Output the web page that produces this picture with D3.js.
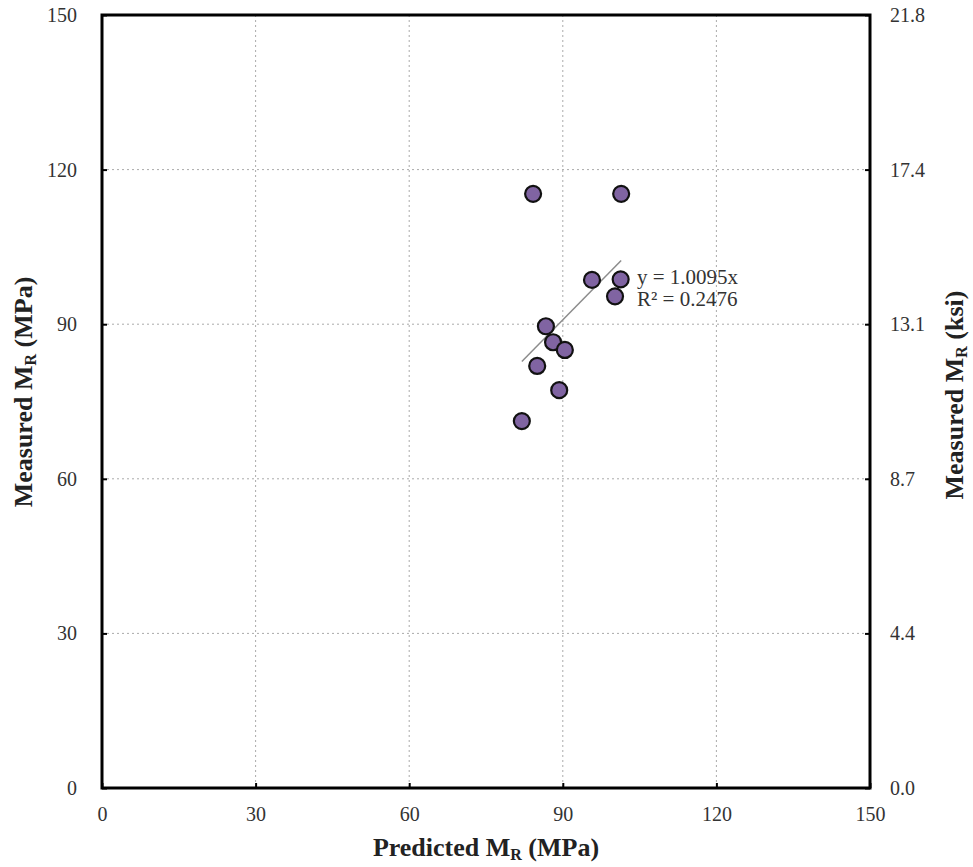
<!DOCTYPE html>
<html><head><meta charset="utf-8">
<script src="https://cdn.jsdelivr.net/npm/d3@7"></script>
<style>body{margin:0;background:#fff}</style>
</head><body>
<svg id="c" width="973" height="867"></svg>
<script>
const predicted = [84.2, 101.4, 95.7, 101.3, 100.2, 86.7, 88.1, 90.4, 85.0, 89.3, 82.0];
const measured  = [115.3, 115.3, 98.6, 98.7, 95.4, 89.6, 86.5, 85.0, 81.9, 77.2, 71.2];
const xTicks = [0, 30, 60, 90, 120, 150];
const yTicks = [0, 30, 60, 90, 120, 150];
const ksiLabels = ["0.0", "4.4", "8.7", "13.1", "17.4", "21.8"];
const slope = 1.0095;
const eqText = "y = 1.0095x";
const r2Text = "R² = 0.2476";

const svg = d3.select("#c");
const L = 102, R = 870, T = 15, B = 788;
const x = d3.scaleLinear().domain([0, 150]).range([L, R]);
const y = d3.scaleLinear().domain([0, 150]).range([B, T]);
const serif = "'Liberation Serif','Times New Roman',serif";

// gridlines
svg.append("g").selectAll("line").data(xTicks.slice(1, -1)).join("line")
  .attr("x1", d => x(d)).attr("x2", d => x(d)).attr("y1", T).attr("y2", B)
  .attr("stroke", "#aaa").attr("stroke-width", 1).attr("stroke-dasharray", "2,3");
svg.append("g").selectAll("line").data(yTicks.slice(1, -1)).join("line")
  .attr("y1", d => y(d)).attr("y2", d => y(d)).attr("x1", L).attr("x2", R)
  .attr("stroke", "#aaa").attr("stroke-width", 1).attr("stroke-dasharray", "2,3");

// axes (inner ticks)
const tickStyle = g => { g.select(".domain").remove(); g.selectAll("line").attr("stroke", "#000").attr("stroke-width", 2);
  g.selectAll("text").attr("font-family", serif).attr("font-size", 20).attr("fill", "#333"); };
svg.append("g").attr("transform", `translate(0,${B})`)
  .call(d3.axisBottom(x).tickValues(xTicks).tickSizeInner(-5).tickPadding(19).tickFormat(d3.format("d")))
  .call(tickStyle);
svg.append("g").attr("transform", `translate(${L},0)`)
  .call(d3.axisLeft(y).tickValues(yTicks).tickSizeInner(-5).tickPadding(25).tickFormat(d3.format("d")))
  .call(tickStyle);
svg.append("g").attr("transform", `translate(${R},0)`)
  .call(d3.axisRight(y).tickValues(yTicks).tickSizeInner(-5).tickPadding(20).tickFormat((d, i) => ksiLabels[i]))
  .call(tickStyle);

// frame
svg.append("rect").attr("x", L).attr("y", T).attr("width", R - L).attr("height", B - T)
  .attr("fill", "none").attr("stroke", "#000").attr("stroke-width", 3);

// trendline
const xmin = d3.min(predicted), xmax = d3.max(predicted);
svg.append("line").attr("x1", x(xmin)).attr("y1", y(slope * xmin))
  .attr("x2", x(xmax)).attr("y2", y(slope * xmax))
  .attr("stroke", "#8c8c8c").attr("stroke-width", 1.5);

// points
svg.append("g").selectAll("circle").data(predicted.map((p, i) => [p, measured[i]])).join("circle")
  .attr("cx", d => x(d[0])).attr("cy", d => y(d[1])).attr("r", 8)
  .attr("fill", "#8064a2").attr("stroke", "#111").attr("stroke-width", 2.2);

// equation
svg.append("text").attr("x", 637).attr("y", 284).text(eqText)
  .attr("font-family", serif).attr("font-size", 21).attr("fill", "#333");
svg.append("text").attr("x", 637).attr("y", 306).text(r2Text)
  .attr("font-family", serif).attr("font-size", 21).attr("fill", "#333");

// axis titles
const title = (sel, main, unit) => {
  sel.attr("font-family", serif).attr("font-size", 26).attr("font-weight", "bold").attr("fill", "#222");
  sel.append("tspan").text(main + "M");
  sel.append("tspan").text("R").attr("font-size", 16).attr("dy", 4);
  sel.append("tspan").text(" " + unit).attr("dy", -4);
};
svg.append("text").attr("x", 486).attr("y", 856).attr("text-anchor", "middle")
  .call(t => title(t, "Predicted ", "(MPa)"));
svg.append("text").attr("transform", `translate(32,392) rotate(-90)`).attr("text-anchor", "middle")
  .call(t => title(t, "Measured ", "(MPa)"));
svg.append("text").attr("transform", `translate(963,395) rotate(-90)`).attr("text-anchor", "middle")
  .call(t => title(t, "Measured ", "(ksi)"));
</script>
</body></html>
